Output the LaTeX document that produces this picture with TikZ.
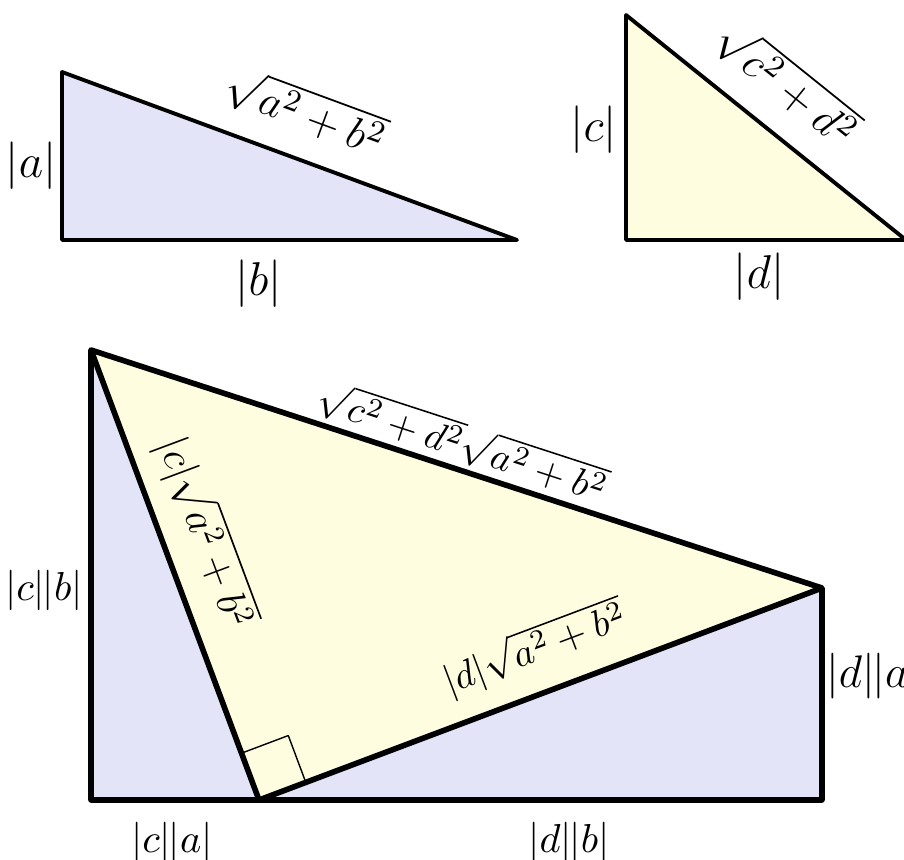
\documentclass[tikz,border=0pt]{standalone}
\usepackage{fix-cm}
\usetikzlibrary{calc}
\definecolor{lavblue}{RGB}{228,228,248}
\definecolor{paleyel}{RGB}{255,253,224}
\newcommand{\dbar}{|\mkern-1mu|}
\newcommand{\fs}[1]{\fontsize{#1}{1.2\dimexpr#1\relax}\selectfont}
\begin{document}
\begin{tikzpicture}[line join=round,
  every node/.style={font=\fs{11.5pt}},
  leg/.style={font=\fs{13.5pt}},
  small/.style={line width=1.1pt},
  big/.style={line width=1.6pt},
  hyp/.style={sloped,anchor=base,inner sep=0pt}]
\useasboundingbox (0,0) rectangle (9.04,8.59);

% triangle with legs |a|, |b|
\coordinate (a1) at (0.62,7.87);
\coordinate (o1) at (0.62,6.19);
\coordinate (b1) at (5.17,6.19);
\fill[lavblue] (a1)--(o1)--(b1)--cycle;
\draw[small] (a1)--(o1)--(b1)--cycle;
\path (a1)--(b1) node[hyp,pos=0.5,yshift=8.5pt,font=\fs{12.5pt}] (hab) {$\sqrt{a^2+b^2}$};
\node[leg] (la) at (0.31,6.93) {$|a|$};
\node[leg] (lb) at (2.585,5.75) {$|b|$};

% triangle with legs |c|, |d|
\coordinate (c2) at (6.26,8.44);
\coordinate (o2) at (6.26,6.19);
\coordinate (d2) at (9.06,6.19);
\fill[paleyel] (c2)--(o2)--(d2)--cycle;
\draw[small] (c2)--(o2)--(d2)--cycle;
\path (c2)--(d2) node[hyp,pos=0.47,yshift=8.5pt,font=\fs{12.5pt}] (hcd) {$\sqrt{c^2+d^2}$};
\node[leg] (lc) at (5.935,7.29) {$|c|$};
\node[leg] (ld) at (7.59,5.82) {$|d|$};

% the rectangle
\coordinate (A) at (0.91,5.09);
\coordinate (D) at (0.91,0.59);
\coordinate (B) at (2.59,0.59);
\coordinate (E) at (8.22,0.59);
\coordinate (C) at (8.22,2.71);
\fill[lavblue] (A)--(D)--(E)--(C)--cycle;
\fill[paleyel] (A)--(B)--(C)--cycle;
\coordinate (r1) at ($(B)!0.5cm!(A)$);
\coordinate (r2) at ($(B)!0.5cm!(C)$);
\draw[thin] (r1)--($(r1)+(r2)-(B)$)--(r2);
\draw[big] (A)--(D)--(E)--(C)--cycle;
\draw[big] (A)--(B)--(C);
\path (A)--(C) node[hyp,pos=0.497,yshift=3.5pt,font=\fs{11pt}] (hac) {$\sqrt{c^2+d^2}\sqrt{a^2+b^2}$};
\path (A)--(B) node[hyp,pos=0.44,yshift=8.5pt,font=\fs{12pt}] (hab2) {$|c|\sqrt{a^2+b^2}$};
\path (B)--(C) node[hyp,pos=0.518,yshift=9pt,font=\fs{11pt}] (hbc) {$|d|\sqrt{a^2+b^2}$};
\node (lcb) at (0.44,2.69) {$|c\dbar b|$};
\node (lca) at (1.72,0.17) {$|c\dbar a|$};
\node (ldb) at (5.69,0.17) {$|d\dbar b|$};
\node[anchor=west,inner sep=0pt,font=\fs{13pt}] (lda) at (8.255,1.83) {$|d\dbar a|$};
\end{tikzpicture}
\end{document}
